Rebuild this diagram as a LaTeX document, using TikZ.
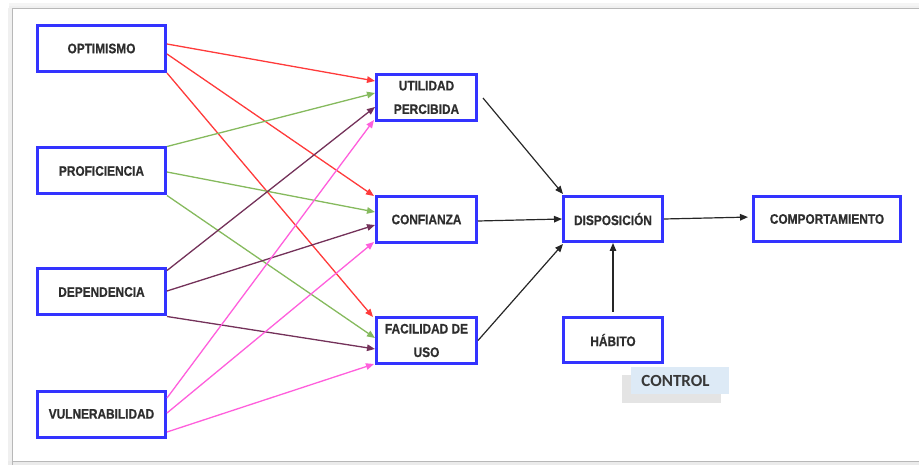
\documentclass[tikz,border=0pt]{standalone}
\usepackage{fontspec}
\usetikzlibrary{arrows.meta,calc}
\newfontfamily\boxfont[FakeStretch=0.86,FakeBold=0.6]{Liberation Sans}
\newfontfamily\tagfont{Carlito}
\definecolor{boxblue}{HTML}{3333FF}
\definecolor{txt}{HTML}{2E2E2E}
\definecolor{tagtxt}{HTML}{383838}
\definecolor{cred}{HTML}{FF3B3B}
\definecolor{cgreen}{HTML}{86BA5E}
\definecolor{cplum}{HTML}{74325A}
\definecolor{cpink}{HTML}{FF5FDC}
\definecolor{tagblue}{HTML}{DDEAF6}
\definecolor{tagshade}{HTML}{E4E4E4}
\tikzset{
  stagebox/.style={draw=boxblue, line width=3pt, fill=white, inner sep=0pt,
    minimum height=46pt, text=txt, align=center,
    font=\boxfont\bfseries\fontsize{13.8}{23.5}\selectfont},
  link/.style={line width=1.3pt, -{Triangle[length=8pt,width=6.5pt]}},
  redlink/.style={link, draw=cred, fill=cred},
  greenlink/.style={link, draw=cgreen, fill=cgreen},
  plumlink/.style={link, draw=cplum, fill=cplum},
  pinklink/.style={link, draw=cpink, fill=cpink},
  blacklink/.style={link, line width=1.2pt, draw=black!85}
}
\begin{document}
\begin{tikzpicture}[x=1pt,y=-1pt]
\useasboundingbox (0,0) rectangle (919,465);
% page frame with a soft shadow
\fill[black!4] (9,3) rectangle (919,8);
\fill[black!6] (9,6) rectangle (919,8);
\fill[black!6] (8,8) rectangle (12,465);
\fill[black!8] (8,461) rectangle (919,465);
\draw[black!28, line width=1pt] (12,465) -- (12,8.5) -- (919,8.5);
\draw[black!28, line width=1pt] (12,461.5) -- (919,461.5);

% input factors
\node[stagebox, minimum width=128pt] (opt) at (101.5,48.5) {OPTIMISMO};
\node[stagebox, minimum width=128pt] (prof) at (101.5,171) {PROFICIENCIA};
\node[stagebox, minimum width=128pt] (dep) at (101.5,292) {DEPENDENCIA};
\node[stagebox, minimum width=128pt] (vul) at (101.5,414) {VULNERABILIDAD};
% perceptions
\node[stagebox, minimum width=100pt] (ut) at (426.5,97.5) {UTILIDAD\\PERCIBIDA};
\node[stagebox, minimum width=100pt] (conf) at (426.5,219.5) {CONFIANZA};
\node[stagebox, minimum width=100pt] (fac) at (426.5,340.5) {FACILIDAD DE\\USO};
% outcome chain
\node[stagebox, minimum width=99pt, minimum height=45pt] (disp) at (613,219) {DISPOSICIÓN};
\node[stagebox, minimum width=147pt, minimum height=45pt] (comp) at (827,219) {COMPORTAMIENTO};
\node[stagebox, minimum width=99pt, minimum height=45pt] (hab) at (613,340) {HÁBITO};

% control tag
\fill[tagshade] (622,375) rectangle (721,403);
\node[fill=tagblue, minimum width=98pt, minimum height=27pt, inner sep=0pt,
  text=tagtxt, font=\tagfont\bfseries\fontsize{17}{20}\selectfont] (ctrl) at (680,380.5) {\hspace*{-9pt}CONTROL};

% optimismo
\draw[redlink] ([yshift=4.5pt]opt.east) -- ([yshift=16.5pt]ut.west);
\draw[redlink] ([yshift=-5.5pt]opt.east) -- ([xshift=-1pt,yshift=-1pt]conf.north west);
\draw[redlink] (opt.south east) -- ([xshift=-2pt,yshift=-1pt]fac.north west);
% proficiencia
\draw[greenlink] (prof.north east) -- ([yshift=4.5pt]ut.west);
\draw[greenlink] ([yshift=-1pt]prof.east) -- ([yshift=7.5pt]conf.west);
\draw[greenlink] (prof.south east) -- ([yshift=2.5pt]fac.west);
% dependencia
\draw[plumlink] ([yshift=-3pt]dep.north east) -- ([yshift=-9.5pt]ut.west);
\draw[plumlink] ([yshift=1pt]dep.east) -- ([yshift=-5.5pt]conf.west);
\draw[plumlink] (dep.south east) -- ([yshift=-8.5pt]fac.west);
% vulnerabilidad
\draw[pinklink] ([yshift=16pt]vul.east) -- ([xshift=-1pt,yshift=2pt]ut.south west);
\draw[pinklink] ([yshift=1pt]vul.east) -- ([xshift=-1pt,yshift=2pt]conf.south west);
\draw[pinklink] ([yshift=-18pt]vul.east) -- ([xshift=-1pt,yshift=1pt]fac.south west);

% toward disposicion and behaviour
\draw[blacklink] ([xshift=5pt,yshift=-0.5pt]ut.east) -- ([xshift=1pt,yshift=1pt]disp.north west);
\draw[blacklink] ([yshift=-1.5pt]conf.east) -- (disp.west);
\draw[blacklink] (fac.east) -- ([xshift=1pt,yshift=-1pt]disp.south west);
\draw[blacklink, shorten >=4pt] (disp.east) -- ([yshift=2pt]comp.west);
\draw[blacklink] ([yshift=4pt]hab.north) -- (disp.south);
\end{tikzpicture}
\end{document}
